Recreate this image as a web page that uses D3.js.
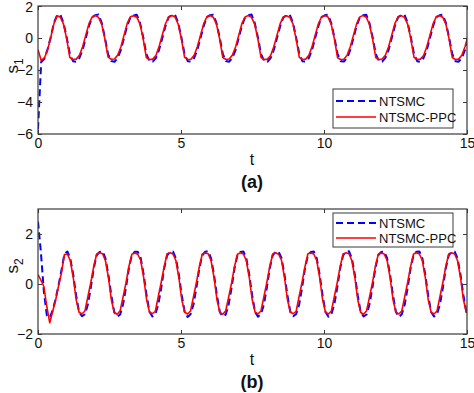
<!DOCTYPE html>
<html><head><meta charset="utf-8">
<script src="https://cdn.jsdelivr.net/npm/d3@7"></script>
<style>
body{margin:0;background:#fff}
svg{display:block}
text{font-family:"Liberation Sans",Arial,Helvetica,sans-serif}
</style>
</head><body>
<svg id="c" width="474" height="393"></svg>
<script>
// ---------- data ----------
const xTicks = [0, 5, 10, 15];
const yTicksA = [-6, -4, -2, 0, 2];
const yTicksB = [-2, 0, 2];
const seriesNames = ["NTSMC", "NTSMC-PPC"];
const panelLabels = ["(a)", "(b)"];
const tStepA = 0.11142;   // sampling step of panel (a) signals, s
const tStepB = 0.10258;   // sampling step of panel (b) signals, s

const s1NTSMC = [
 -5.70, -1.50, -1.30, -0.70, 0.05, 0.95,
 1.42, 1.46, 0.95, 0.05, -1.00, -1.45, -1.48, -1.25, -0.75, 0.00, 0.75, 1.30,
 1.43, 1.47, 0.94, 0.03, -1.02, -1.44, -1.49, -1.24, -0.76, 0.01, 0.76, 1.29,
 1.41, 1.46, 0.96, 0.06, -0.99, -1.46, -1.48, -1.26, -0.74, -0.01, 0.74, 1.31,
 1.42, 1.45, 0.95, 0.04, -1.01, -1.45, -1.47, -1.25, -0.75, 0.00, 0.75, 1.30,
 1.43, 1.46, 0.94, 0.05, -1.00, -1.44, -1.48, -1.24, -0.76, 0.02, 0.76, 1.30,
 1.42, 1.47, 0.95, 0.05, -1.01, -1.45, -1.49, -1.25, -0.75, 0.00, 0.74, 1.29,
 1.41, 1.46, 0.96, 0.04, -1.00, -1.46, -1.48, -1.26, -0.74, 0.01, 0.75, 1.31,
 1.42, 1.45, 0.95, 0.05, -0.99, -1.45, -1.47, -1.25, -0.75, 0.00, 0.76, 1.30,
 1.43, 1.46, 0.94, 0.06, -1.01, -1.44, -1.48, -1.24, -0.76, -0.01, 0.75, 1.30,
 1.42, 1.47, 0.95, 0.05, -1.00, -1.45, -1.49, -1.25, -0.75, 0.00, 0.75, 1.31,
 1.42, 1.46, 0.95, 0.04, -1.00, -1.45, -1.48, -1.25, -0.75, 0.00
];
const s1PPC = [
 -0.73, -1.40, -1.25, -0.75, 0.03, 0.90,
 1.40, 1.30, 0.87, -0.05, -1.22, -1.34, -1.32, -1.08, -0.55, 0.18, 0.90, 1.32,
 1.41, 1.29, 0.85, -0.08, -1.20, -1.33, -1.31, -1.07, -0.56, 0.17, 0.91, 1.33,
 1.39, 1.30, 0.88, -0.04, -1.23, -1.35, -1.32, -1.09, -0.54, 0.19, 0.89, 1.31,
 1.40, 1.31, 0.86, -0.06, -1.21, -1.34, -1.33, -1.08, -0.55, 0.18, 0.90, 1.33,
 1.41, 1.30, 0.87, -0.05, -1.22, -1.34, -1.31, -1.07, -0.56, 0.17, 0.91, 1.32,
 1.40, 1.29, 0.86, -0.07, -1.22, -1.35, -1.32, -1.09, -0.55, 0.18, 0.90, 1.32,
 1.39, 1.30, 0.88, -0.05, -1.21, -1.34, -1.32, -1.08, -0.54, 0.19, 0.89, 1.33,
 1.41, 1.31, 0.87, -0.04, -1.23, -1.34, -1.33, -1.07, -0.55, 0.18, 0.90, 1.32,
 1.40, 1.30, 0.86, -0.06, -1.22, -1.35, -1.31, -1.08, -0.56, 0.17, 0.91, 1.31,
 1.40, 1.29, 0.87, -0.05, -1.21, -1.34, -1.32, -1.09, -0.55, 0.18, 0.90, 1.33,
 1.41, 1.30, 0.87, -0.05, -1.22, -1.34, -1.32, -1.08, -0.55, 0.18
];
const s2NTSMC = [
 2.50, 1.25, -0.30, -1.25, -1.35, -1.05, -0.60, -0.05, 0.55, 1.20,
 1.30, 1.03, 0.38, -0.45, -1.12, -1.29, -1.21, -0.82, -0.15, 0.63, 1.15, 1.28,
 1.31, 1.02, 0.37, -0.46, -1.13, -1.31, -1.22, -0.81, -0.14, 0.64, 1.16, 1.29,
 1.29, 1.04, 0.39, -0.44, -1.11, -1.30, -1.20, -0.83, -0.16, 0.62, 1.14, 1.28,
 1.30, 1.03, 0.38, -0.45, -1.12, -1.32, -1.21, -0.82, -0.15, 0.63, 1.15, 1.29,
 1.31, 1.02, 0.37, -0.46, -1.13, -1.30, -1.22, -0.81, -0.14, 0.64, 1.16, 1.28,
 1.30, 1.03, 0.38, -0.45, -1.12, -1.31, -1.21, -0.82, -0.15, 0.63, 1.15, 1.29,
 1.29, 1.04, 0.39, -0.44, -1.11, -1.29, -1.20, -0.83, -0.16, 0.62, 1.14, 1.28,
 1.30, 1.03, 0.38, -0.45, -1.12, -1.31, -1.21, -0.82, -0.15, 0.63, 1.15, 1.29,
 1.31, 1.02, 0.37, -0.46, -1.13, -1.30, -1.22, -0.81, -0.14, 0.64, 1.16, 1.28,
 1.30, 1.03, 0.38, -0.45, -1.12, -1.32, -1.21, -0.82, -0.15, 0.63, 1.15, 1.29,
 1.30, 1.03, 0.38, -0.45, -1.12, -1.30, -1.21, -0.82, -0.15, 0.63, 1.15, 1.28,
 1.30, 1.03, 0.38, -0.45, -1.12, -1.29
];
const s2PPC = [
 0.38, 0.15, -0.10, -0.90, -1.55, -1.10, -0.65, -0.08, 0.45, 1.18,
 1.20, 0.94, 0.27, -0.62, -1.13, -1.20, -1.08, -0.51, 0.06, 0.70, 1.20, 1.25,
 1.21, 0.93, 0.26, -0.63, -1.14, -1.21, -1.07, -0.52, 0.05, 0.71, 1.19, 1.24,
 1.19, 0.95, 0.28, -0.61, -1.12, -1.19, -1.09, -0.50, 0.07, 0.69, 1.21, 1.25,
 1.20, 0.94, 0.27, -0.62, -1.13, -1.20, -1.08, -0.51, 0.06, 0.70, 1.20, 1.24,
 1.21, 0.93, 0.26, -0.63, -1.14, -1.21, -1.07, -0.52, 0.05, 0.71, 1.19, 1.25,
 1.20, 0.94, 0.27, -0.62, -1.13, -1.20, -1.08, -0.51, 0.06, 0.70, 1.20, 1.25,
 1.19, 0.95, 0.28, -0.61, -1.12, -1.19, -1.09, -0.50, 0.07, 0.69, 1.21, 1.24,
 1.20, 0.94, 0.27, -0.62, -1.13, -1.20, -1.08, -0.51, 0.06, 0.70, 1.20, 1.25,
 1.21, 0.93, 0.26, -0.63, -1.14, -1.21, -1.07, -0.52, 0.05, 0.71, 1.19, 1.24,
 1.20, 0.94, 0.27, -0.62, -1.13, -1.20, -1.08, -0.51, 0.06, 0.70, 1.20, 1.25,
 1.20, 0.94, 0.27, -0.62, -1.13, -1.20, -1.08, -0.51, 0.06, 0.70, 1.20, 1.25,
 1.20, 0.94, 0.27, -0.62, -1.13, -1.20
];

// ---------- drawing ----------
const svg = d3.select("#c");
const axisColor = "#3a3a3a";
const colors = ["#0000ff", "#ff0000"];

function panel(o) {
  const x = d3.scaleLinear().domain([0, 15]).range([38, 467]);
  const y = d3.scaleLinear().domain(o.yDomain).range([o.bottom, o.top]);
  const g = svg.append("g");
  const clipId = "clip" + o.id;
  svg.append("clipPath").attr("id", clipId).append("rect")
    .attr("x", 38).attr("y", o.top).attr("width", 429).attr("height", o.bottom - o.top);

  const series = [o.blue, o.red];
  const line = d3.line().x(d => x(d[0])).y(d => y(d[1]));
  series.forEach((vals, k) => {
    const pts = vals.map((v, i) => [i * o.step, v]);
    g.append("path").attr("clip-path", `url(#${clipId})`)
      .attr("d", line(pts)).attr("fill", "none")
      .attr("stroke", colors[k])
      .attr("stroke-width", k === 0 ? 2 : 1.6)
      .attr("stroke-dasharray", k === 0 ? "7,4" : null)
      .attr("stroke-linejoin", "round");
  });

  const fs = "14px";
  const ax = (sel) => { sel.select(".domain").remove(); sel.selectAll("line").attr("stroke", axisColor); sel.selectAll("text").attr("fill", "#111").style("font-size", fs).style("font-family", '"Liberation Sans",Arial,sans-serif'); };
  g.append("g").attr("transform", `translate(0,${o.bottom})`)
    .call(d3.axisBottom(x).tickValues(xTicks).tickSize(-4).tickPadding(4).tickFormat(d3.format("d"))).call(ax);
  g.append("g").attr("transform", `translate(0,${o.top})`)
    .call(d3.axisTop(x).tickValues(xTicks).tickSize(-4).tickFormat("")).call(ax);
  const yAx = g.append("g").attr("transform", `translate(38,0)`)
    .call(d3.axisLeft(y).tickValues(o.yTicks).tickSize(-4).tickPadding(5).tickFormat(d3.format("d"))).call(ax);
  // keep the top-most label inside the picture
  yAx.selectAll(".tick text").filter(d => y(d) < 10).attr("dy", "0.42em");
  g.append("g").attr("transform", `translate(467,0)`)
    .call(d3.axisRight(y).tickValues(o.yTicks).tickSize(-4).tickFormat("")).call(ax);
  g.append("rect").attr("x", 38).attr("y", o.top).attr("width", 429).attr("height", o.bottom - o.top)
    .attr("fill", "none").attr("stroke", axisColor).attr("stroke-width", 1.2);

  // y label
  const yl = g.append("text").attr("transform", `translate(${o.ylx},${o.yly}) rotate(-90)`)
    .attr("text-anchor", "middle").style("font-size", "17px").attr("fill", "#111");
  yl.append("tspan").text("s");
  yl.append("tspan").attr("dy", 5).style("font-size", "12px").text(o.sub);

  // x label
  g.append("text").attr("x", 252).attr("y", o.bottom + 31).attr("text-anchor", "middle")
    .style("font-size", "16px").attr("fill", "#111").text("t");
  g.append("text").attr("x", 252).attr("y", o.bottom + 54).attr("text-anchor", "middle")
    .style("font-size", "18px").style("font-weight", "bold").attr("fill", "#111").text(o.label);

  // legend
  const L = o.legend;
  const lg = g.append("g");
  lg.append("rect").attr("x", L.x).attr("y", L.y).attr("width", L.w).attr("height", L.h)
    .attr("fill", "#fff").attr("stroke", axisColor).attr("stroke-width", 1);
  seriesNames.forEach((nm, k) => {
    const cy = L.y + L.rows[k];
    lg.append("line").attr("x1", L.x + 3).attr("x2", L.x + 43).attr("y1", cy).attr("y2", cy)
      .attr("stroke", colors[k]).attr("stroke-width", k === 0 ? 2 : 1.6)
      .attr("stroke-dasharray", k === 0 ? "7,4" : null);
    lg.append("text").attr("x", L.x + 46).attr("y", cy).attr("dy", "0.35em")
      .style("font-size", "13px").attr("fill", "#111").text(nm);
  });
}

panel({id: "a", top: 6, bottom: 134, yDomain: [-6, 2], yTicks: yTicksA, step: tStepA,
  blue: s1NTSMC, red: s1PPC, sub: "1", ylx: 18, yly: 66, label: panelLabels[0],
  legend: {x: 333, y: 89, w: 120, h: 39, rows: [12, 28]}});
panel({id: "b", top: 209, bottom: 334, yDomain: [-2, 3], yTicks: yTicksB, step: tStepB,
  blue: s2NTSMC, red: s2PPC, sub: "2", ylx: 18, yly: 266, label: panelLabels[1],
  legend: {x: 333, y: 213, w: 120, h: 34, rows: [10, 25]}});
</script>
</body></html>
